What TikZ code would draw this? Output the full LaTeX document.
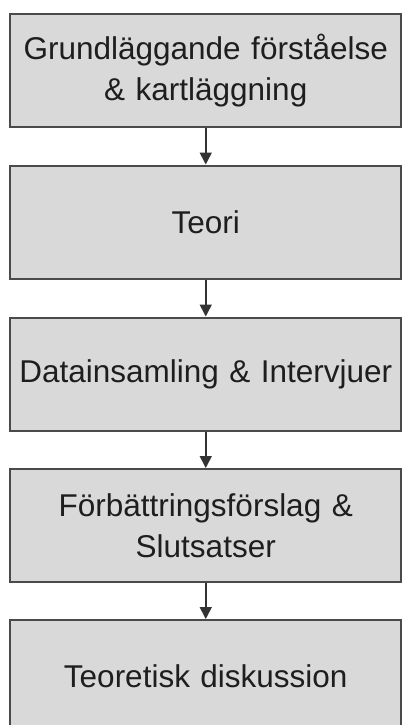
\documentclass[tikz,border=0pt]{standalone}
\usepackage{fontspec}
\setmainfont{Liberation Sans}
\usetikzlibrary{arrows.meta}
\definecolor{boxfill}{HTML}{D9D9D9}
\definecolor{boxline}{HTML}{4A4A4A}
\definecolor{txt}{HTML}{1E1E1E}
\definecolor{arr}{HTML}{333333}
\tikzset{
  stepbox/.style={draw=boxline, fill=boxfill, line width=2pt, minimum width=391pt,
    minimum height=113pt, text width=388pt, align=center, inner sep=0pt,
    text=txt, font=\fontsize{31.5}{41}\selectfont},
  flowarrow/.style={draw=arr, line width=1.6pt, -{Triangle[length=12pt,width=12pt]}}
}
\begin{document}
\begin{tikzpicture}[x=1pt,y=1pt]
\useasboundingbox (0,0) rectangle (402,-725);
\node[stepbox] (b1) at (205.75,-70.5) {Grundläggande förståelse\\ \& kartläggning};
\node[stepbox] (b2) at (205.75,-222) {Teori};
\node[stepbox] (b3) at (205.75,-374) {Datainsamling \& Intervjuer};
\node[stepbox] (b4) at (205.75,-525.5) {Förbättringsförslag \&\\ Slutsatser};
\node[stepbox] (b5) at (205.75,-676.5) {Teoretisk diskussion};
\draw[flowarrow] (b1.south) -- (b2.north);
\draw[flowarrow] (b2.south) -- (b3.north);
\draw[flowarrow] (b3.south) -- (b4.north);
\draw[flowarrow] (b4.south) -- (b5.north);
\end{tikzpicture}
\end{document}
